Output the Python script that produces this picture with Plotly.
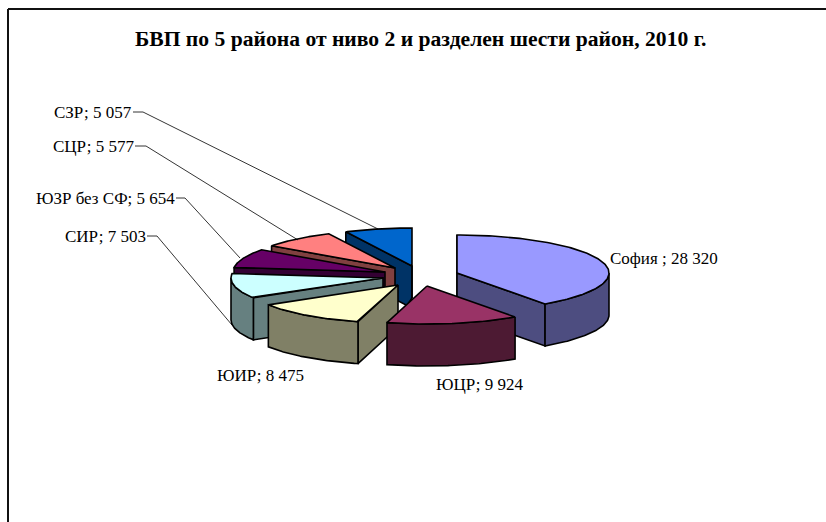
import numpy as np
import plotly.graph_objects as go

categories = ["София ", "ЮЦР", "ЮИР", "СИР", "ЮЗР без СФ", "СЦР", "СЗР"]
values = [28320, 9924, 8475, 7503, 5654, 5577, 5057]
title_text = "БВП по 5 района от ниво 2 и разделен шести район, 2010 г."

# styling / layout in reference pixels
top_colors = ["#9999FF", "#993366", "#FFFFCC", "#CCFFFF", "#660066", "#FF8080", "#0066CC"]
wall_colors = ["#4D4D80", "#4D1A33", "#808066", "#668080", "#330033", "#804040", "#003366"]
apex = [(457, 273), (427, 286), (398, 285), (383, 278), (385, 272), (395, 268), (412, 266)]
draw_order = [6, 5, 4, 3, 0, 2, 1]
RX, RY, DEPTH = 152, 38, 42
FONT = "Liberation Serif"

label_pos = [(610, 258, "left"), (436, 384, "left"), (217, 375, "left"),
             (132, 112, "right"), (175, 198, "right"), (134, 146, "right"), (146, 236, "right")]
label_pos = [label_pos[0], label_pos[1], label_pos[2], label_pos[6], label_pos[4], label_pos[5], label_pos[3]]
leaders = {
    3: [(147, 236), (157, 236), (232, 325)],
    4: [(176, 198), (185, 198), (240, 258)],
    5: [(135, 146), (146, 146), (298, 240)],
    6: [(133, 112), (143, 112), (378, 229)],
}

total = sum(values)
edges = np.cumsum([0] + values) / total * 360.0
fig = go.Figure()


def pt(c, a, dz=0):
    r = np.radians(a)
    return c[0] + RX * np.sin(r), c[1] - RY * np.cos(r) + dz


def poly(pts, color):
    xs = [p[0] for p in pts] + [pts[0][0]]
    ys = [p[1] for p in pts] + [pts[0][1]]
    fig.add_trace(go.Scatter(x=xs, y=ys, mode="lines", fill="toself", fillcolor=color,
                             line=dict(color="#000000", width=1.6), hoverinfo="skip",
                             showlegend=False))


for i in draw_order:
    a0, a1 = edges[i], edges[i + 1]
    c = apex[i]
    top_col, wall = top_colors[i], wall_colors[i]
    # radial walls that face the viewer
    for a, sign in ((a0, -1), (a1, 1)):
        if -np.cos(np.radians(a + sign * 90)) >= -1e-6:
            p = pt(c, a)
            if i == 6 and sign == -1:
                # the back slice's wall is cut short near the apex in the reference
                f = 0.924
                inner = (p[0] + f * (c[0] - p[0]), p[1] + f * (c[1] - p[1]) + DEPTH)
                poly([p, c, (c[0], c[1] + 32), inner, (p[0], p[1] + DEPTH)], wall)
            elif i == 6:
                poly([c, (c[0], c[1] + 32)], wall)
            else:
                poly([p, c, (c[0], c[1] + DEPTH), (p[0], p[1] + DEPTH)], wall)
    # outer curved wall, front half only
    lo, hi = max(a0, 90), min(a1, 270)
    if hi > lo:
        arc = np.linspace(lo, hi, 60)
        poly([pt(c, a) for a in arc] + [pt(c, a, DEPTH) for a in arc[::-1]], wall)
    # top face
    arc = np.linspace(a0, a1, 120)
    poly([c] + [pt(c, a) for a in arc], top_col)

for pts in leaders.values():
    fig.add_trace(go.Scatter(x=[p[0] for p in pts], y=[p[1] for p in pts], mode="lines",
                             line=dict(color="#000000", width=0.8), hoverinfo="skip",
                             showlegend=False))

annotations = []
for name, v, (x, y, anchor) in zip(categories, values, label_pos):
    annotations.append(dict(x=x, y=y, xref="x", yref="y", xanchor=anchor, yanchor="middle",
                            text=f"{name}; {v:,}".replace(",", " "), showarrow=False,
                            font=dict(family=FONT, size=17, color="#000000"),
                            borderpad=0, borderwidth=0))
annotations.append(dict(x=420.5, y=39, xref="x", yref="y", xanchor="center", yanchor="middle",
                        text=f"<b>{title_text}</b>", showarrow=False,
                        font=dict(family=FONT, size=21.6, color="#000000")))

frame = dict(type="line", xref="x", yref="y", line=dict(color="#111111", width=2))
fig.update_layout(
    width=826, height=522, margin=dict(l=0, r=0, t=0, b=0),
    paper_bgcolor="#FFFFFF", plot_bgcolor="#FFFFFF", showlegend=False,
    xaxis=dict(range=[0, 826], visible=False, fixedrange=True),
    yaxis=dict(range=[522, 0], visible=False, fixedrange=True),
    annotations=annotations,
    shapes=[dict(frame, x0=8, y0=9, x1=8, y1=522), dict(frame, x0=8, y0=9, x1=826, y1=9)],
)
fig.write_html("out.html", config=dict(displayModeBar=False),
               post_script="document.body.style.margin='0';document.documentElement.style.overflow='hidden';")
